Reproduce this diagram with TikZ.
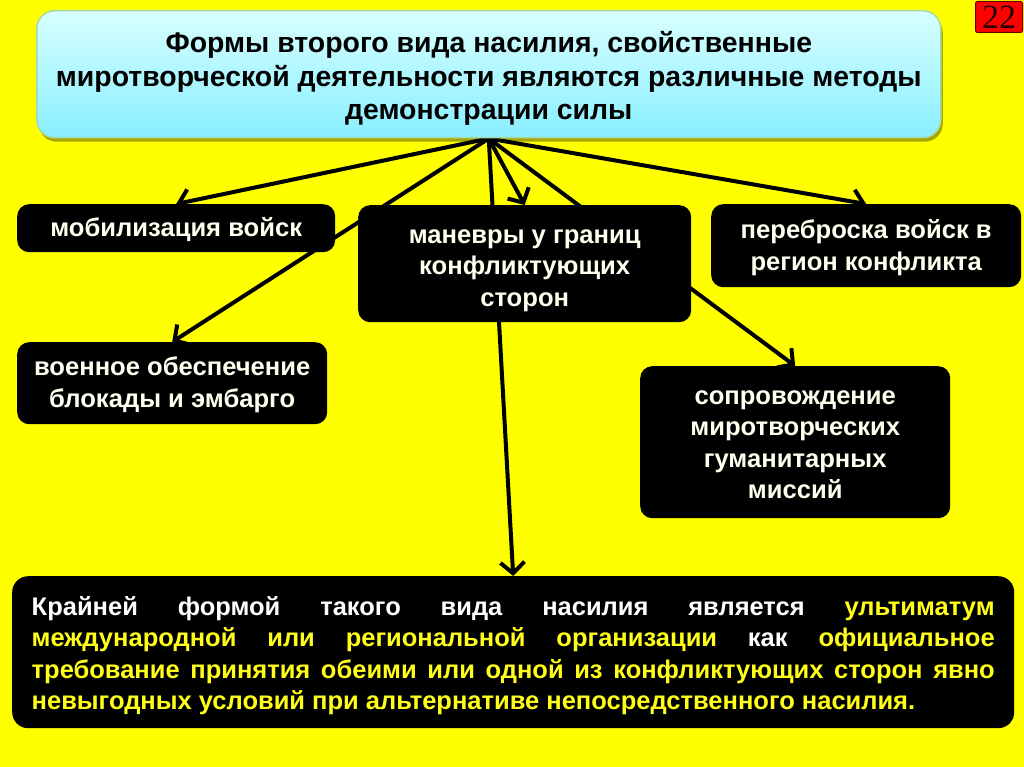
\documentclass[tikz,border=0pt]{standalone}
\usepackage{fontspec}
\setmainfont{Liberation Sans}
\newfontfamily\pgnumfont{Liberation Serif}
\usetikzlibrary{arrows.meta,shadows}
\pgfdeclarelayer{bgfill}
\pgfdeclarelayer{lines}
\pgfsetlayers{bgfill,lines,main}
\definecolor{bgyellow}{HTML}{FFFF00}
\definecolor{cream}{HTML}{FFFFF0}
\definecolor{txtyellow}{HTML}{FFFF1A}
\definecolor{cyantop}{HTML}{D8FFFF}
\definecolor{cyanbot}{HTML}{88EFFF}
\definecolor{cyanedge}{HTML}{A6D9A8}
\newcommand{\lift}[1]{\rule{0pt}{#1pt}}
\begin{document}
\begin{tikzpicture}[x=1pt,y=-1pt,
  blk/.style={fill=black, rounded corners=12pt, text=cream, inner sep=0pt,
    font=\fontsize{25.6}{31.5}\selectfont\bfseries, align=center, anchor=north west},
  conn/.style={line width=4pt, -{Straight Barb[length=11pt,width=24pt,line width=4pt]}}]
\useasboundingbox (0,0) rectangle (1024,767);
\begin{pgfonlayer}{bgfill}
\fill[bgyellow] (0,0) rectangle (1024,767);
\end{pgfonlayer}

\node[anchor=north west, rounded corners=18pt, top color=cyantop, bottom color=cyanbot,
  draw=cyanedge, line width=1.5pt, minimum width=904pt, minimum height=127pt, inner sep=0pt,
  drop shadow={fill=black, opacity=0.35, shadow xshift=2pt, shadow yshift=-4pt},
  font=\fontsize{28.4}{33.5}\selectfont\bfseries, align=center] (top) at (36,10)
  {\lift{29.5}Формы второго вида насилия, свойственные\\
   миротворческой деятельности являются различные методы\\
   демонстрации силы};

\node[blk, minimum width=318pt, minimum height=48pt] (mob) at (17,204) {\lift{22}мобилизация войск};
\node[blk, minimum width=333pt, minimum height=117pt] (man) at (358,205) {\lift{27}маневры у границ\\конфликтующих\\сторон};
\node[blk, minimum width=310pt, minimum height=83pt] (per) at (711,204) {\lift{23}переброска войск в\\регион конфликта};
\node[blk, minimum width=310pt, minimum height=82pt] (voe) at (17,342) {\lift{22}военное обеспечение\\блокады и эмбарго};
\node[blk, minimum width=310pt, minimum height=152pt] (sop) at (640,366) {\lift{19}сопровождение\\миротворческих\\гуманитарных\\миссий};

\node[blk, text=white, rounded corners=16pt, minimum width=1002pt, minimum height=152pt,
  font=\fontsize{25.5}{31.5}\selectfont\bfseries, align=left] (fin) at (12,576)
  {\parbox{963pt}{\raggedright
   \makebox[\linewidth][s]{\lift{26}Крайней формой такого вида насилия является \textcolor{txtyellow}{ультиматум}}\\
   \makebox[\linewidth][s]{\textcolor{txtyellow}{международной или региональной организации} как \textcolor{txtyellow}{официальное}}\\
   \makebox[\linewidth][s]{\textcolor{txtyellow}{требование принятия обеими или одной из конфликтующих сторон явно}}\\
   \textcolor{txtyellow}{невыгодных условий при альтернативе непосредственного насилия.}}};

\node[anchor=north west, fill=red, draw=black!60!red, line width=1pt, rounded corners=2pt,
  minimum width=47pt, minimum height=31pt, inner sep=0pt, text=black!85!red,
  font=\fontsize{34}{34}\selectfont\pgnumfont] (pg) at (975,1) {22};

\begin{pgfonlayer}{lines}
\draw[conn] (top.south) -- (mob.north);
\draw[conn] (top.south) -- (voe.north);
\draw[conn] (top.south) -- (man.north);
\draw[conn] (top.south) -- (fin.north);
\draw[conn] (top.south) -- (sop.north);
\draw[conn] (top.south) -- (per.north);
\end{pgfonlayer}
\end{tikzpicture}
\end{document}
